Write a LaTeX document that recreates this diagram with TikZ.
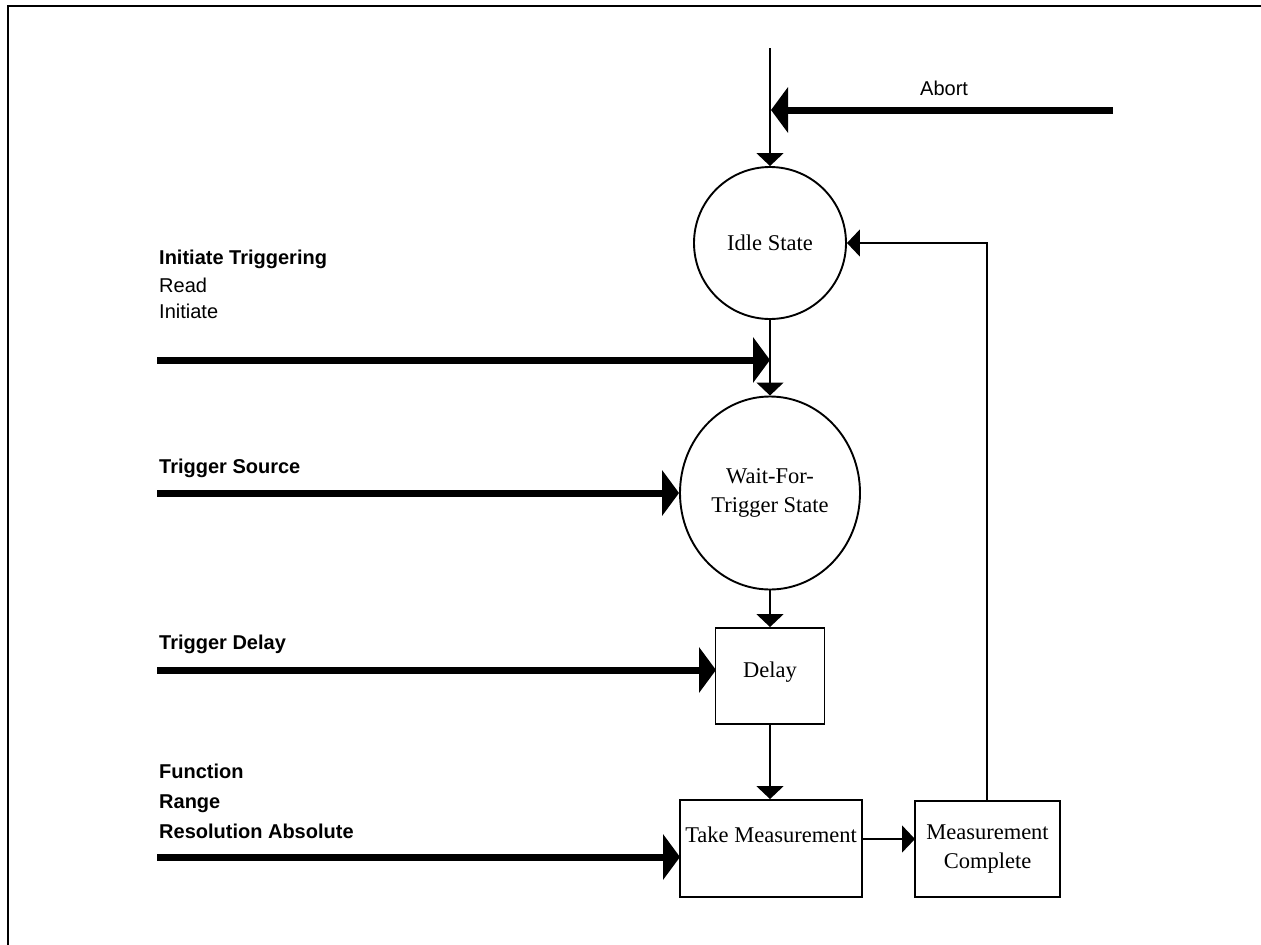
\documentclass[tikz,border=0pt]{standalone}
\usepackage{fontspec}
\setmainfont{Liberation Serif}
\newfontfamily\arial{Liberation Sans}
\usetikzlibrary{arrows.meta,shapes.geometric}
\begin{document}
\begin{tikzpicture}[x=1pt,y=-1pt,
  statebox/.style={draw,line width=1.9pt,inner sep=0pt,font=\fontsize{22.5}{29}\selectfont,align=center},
  thin/.style={line width=1.7pt,-{Triangle[length=13pt,width=27pt]}},
  thick/.style={line width=7pt,-{Triangle[length=17pt,width=45pt]}},
  lbl/.style={anchor=base west,inner sep=0pt,font=\arial\fontsize{20}{24}\selectfont},
  blbl/.style={lbl,font=\arial\bfseries\fontsize{20}{24}\selectfont}]
\useasboundingbox (0,0) rectangle (1261,945);
% frame
\draw[line width=2.2pt] (8,945) -- (8,6) -- (1261,6);
% nodes
\node[statebox,circle,minimum size=152pt] (idle) at (770,243) {Idle State};
\node[statebox,ellipse,minimum width=180pt,minimum height=193pt] (wait) at (770,493) {Wait-For-\\Trigger State};
\node[statebox,rectangle,minimum width=109pt,minimum height=96pt] (delay) at (770,676) {};
\node[font=\fontsize{22.5}{29}\selectfont,inner sep=0pt] (delaytext) at (770,672) {Delay};
\node[statebox,rectangle,minimum width=182pt,minimum height=97pt] (tm) at (771,848.5) {};
\node[font=\fontsize{22.5}{29}\selectfont,inner sep=0pt] (tmtext) at (771,835) {Take Measurement};
\node[statebox,rectangle,minimum width=145pt,minimum height=96pt] (mc) at (987.5,849) {Measurement\\Complete};
% free ends
\coordinate (topin) at (770,48);
\coordinate (abortstart) at (1113,110);
\coordinate (abortend) at (771,110);
\coordinate (initstart) at (157,360);
\coordinate (initend) at (770,360);
\coordinate (tsstart) at (157,493);
\coordinate (tdstart) at (157,670);
\coordinate (tdend) at (716,670);
\coordinate (resstart) at (157,857);
\coordinate (resend) at (680,857);
\coordinate (tmout) at (862,839);
\coordinate (mcin) at (915,839);
\coordinate (fbcorner) at (987,243);
% connectors
\draw[thin] (topin) -- (idle.north);
\draw[thick] (abortstart) -- (abortend);
\draw[thin] (idle.south) -- (wait.north);
\draw[thick] (initstart) -- (initend);
\draw[thick] (tsstart) -- (wait.west);
\draw[thin] (wait.south) -- (delay.north);
\draw[thick] (tdstart) -- (tdend);
\draw[thin] (delay.south) -- (delay.south |- tm.north);
\draw[thick] (resstart) -- (resend);
\draw[thin] (tmout) -- (mcin);
\draw[thin] (mc.north -| fbcorner) -- (fbcorner) -- (idle.east);
% labels
\node[lbl] (abort) at (920,95) {Abort};
\node[blbl] (it) at (159,264) {Initiate Triggering};
\node[lbl] (read) at (159,292) {Read};
\node[lbl] (initiate) at (159,318) {Initiate};
\node[blbl] (tsrc) at (159,473) {Trigger Source};
\node[blbl] (tdel) at (159,649) {Trigger Delay};
\node[blbl] (func) at (159,778) {Function};
\node[blbl] (range) at (159,808) {Range};
\node[blbl] (resabs) at (159,838) {Resolution Absolute};
\end{tikzpicture}
\end{document}
